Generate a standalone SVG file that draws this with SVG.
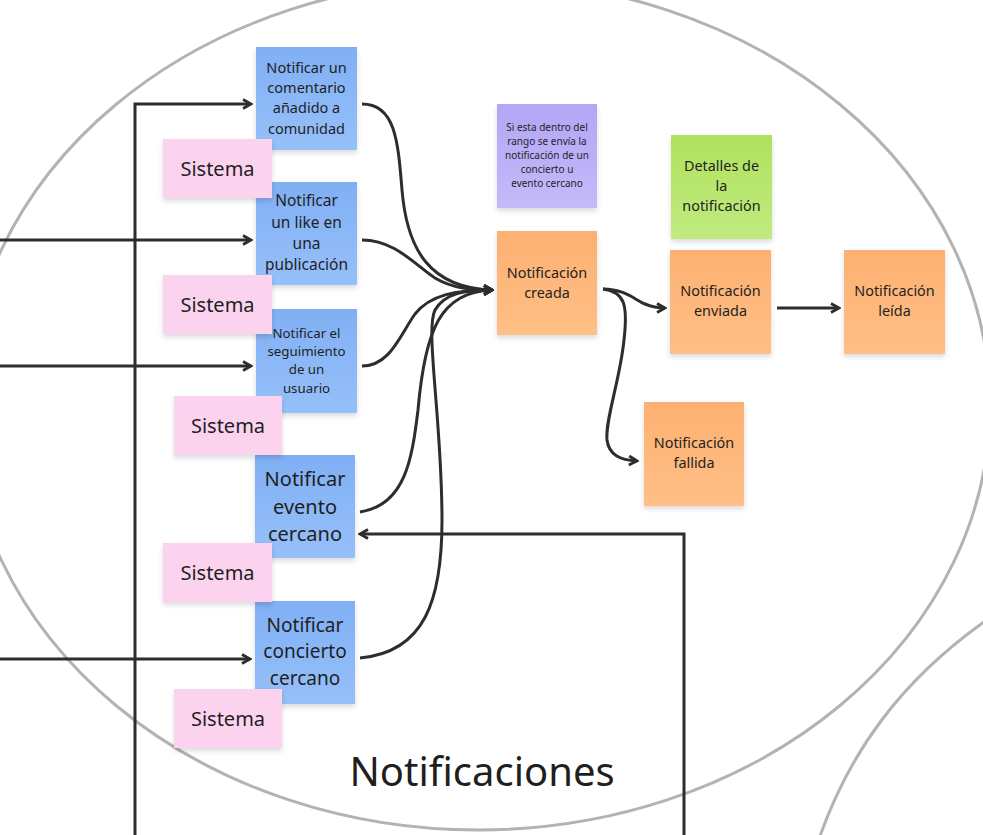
<svg xmlns="http://www.w3.org/2000/svg" width="983" height="835" viewBox="0 0 983 835">
<defs>
<style>
text{font-family:"Noto Sans","Open Sans",sans-serif;fill:#1f1f1f;text-anchor:middle}
.frame{fill:none;stroke:#b3b3b3;stroke-width:3}
.c{fill:none;stroke:#2d2d2d;stroke-width:3;marker-end:url(#ah)}
.blue{fill:url(#gb);filter:url(#sh)}
.pink{fill:#fcd3ef;filter:url(#sh)}
.orange{fill:url(#go);filter:url(#sh)}
.purple{fill:url(#gp);filter:url(#sh)}
.green{fill:url(#gg);filter:url(#sh)}
</style>
<linearGradient id="gb" x1="0" y1="0" x2="0" y2="1"><stop offset="0" stop-color="#80aff4"/><stop offset="1" stop-color="#96c0f9"/></linearGradient>
<linearGradient id="go" x1="0" y1="0" x2="0" y2="1"><stop offset="0" stop-color="#fdb071"/><stop offset="1" stop-color="#ffbf86"/></linearGradient>
<linearGradient id="gp" x1="0" y1="0" x2="0" y2="1"><stop offset="0" stop-color="#b3a6f5"/><stop offset="1" stop-color="#c3bafa"/></linearGradient>
<linearGradient id="gg" x1="0" y1="0" x2="0" y2="1"><stop offset="0" stop-color="#afe25d"/><stop offset="1" stop-color="#c1ea80"/></linearGradient>
<filter id="sh" x="-10%" y="-10%" width="120%" height="125%"><feDropShadow dx="0" dy="3" stdDeviation="2.5" flood-color="#000" flood-opacity="0.14"/></filter>
<marker id="ah" viewBox="0 0 12 12" refX="10" refY="6" markerWidth="12" markerHeight="12" markerUnits="userSpaceOnUse" orient="auto"><path d="M2,1.5 L10,6 L2,10.5" fill="none" stroke="#2d2d2d" stroke-width="2.8"/></marker>
</defs>
<rect width="983" height="835" fill="#ffffff"/>
<g id="frames">
<ellipse class="frame" cx="478" cy="405" rx="512" ry="425"/>
<path class="frame" d="M820,836 C850,752 900,682 984,622"/>
<text x="482" y="786" font-size="40">Notificaciones</text>
</g>
<g id="connectors">
<path class="c" d="M135,835 V104 H251"/>
<path class="c" d="M0,240 H251"/>
<path class="c" d="M0,366 H251"/>
<path class="c" d="M0,659 H250"/>
<path class="c" d="M684,835 V534 H360"/>
<path class="c" d="M362,104 C395,104 398,140 402,190 C407,250 430,288 492,290"/>
<path class="c" d="M362,240 C395,240 415,265 435,278 C452,288 470,290 492,290"/>
<path class="c" d="M362,366 C390,366 400,335 415,314 C430,295 455,290 492,290"/>
<path class="c" d="M360,512 C405,505 412,460 418,410 C425,330 440,292 492,290"/>
<path class="c" d="M360,658 C425,652 442,600 442,520 C442,420 425,330 435,310 C445,293 465,290 492,290"/>
<path class="c" d="M603,289 C625,289 635,300 645,304 C652,307 658,308 665,308"/>
<path class="c" d="M603,289 C625,292 628,305 624,340 C620,380 605,420 607,440 C609,455 620,460 637,461"/>
<path class="c" d="M777,308 H839"/>
</g>
<g id="n-comentario"><rect class="blue" x="256" y="47" width="101" height="103"/>
<text font-size="14.5"><tspan x="306.5" y="72.5">Notificar un</tspan><tspan x="306.5" y="92.8">comentario</tspan><tspan x="306.5" y="113.2">añadido a</tspan><tspan x="306.5" y="133.5">comunidad</tspan></text></g>
<g id="n-like"><rect class="blue" x="256" y="182" width="101" height="103"/>
<text font-size="15.5"><tspan x="306.5" y="206.4">Notificar</tspan><tspan x="306.5" y="227.6">un like en</tspan><tspan x="306.5" y="248.8">una</tspan><tspan x="306.5" y="270">publicación</tspan></text></g>
<g id="n-seguimiento"><rect class="blue" x="256" y="309" width="101" height="104"/>
<text font-size="13.3"><tspan x="306.5" y="337.7">Notificar el</tspan><tspan x="306.5" y="356">seguimiento</tspan><tspan x="306.5" y="374.3">de un</tspan><tspan x="306.5" y="392.6">usuario</tspan></text></g>
<g id="n-evento"><rect class="blue" x="255" y="455" width="100" height="103"/>
<text font-size="20"><tspan x="305" y="486">Notificar</tspan><tspan x="305" y="513.5">evento</tspan><tspan x="305" y="541">cercano</tspan></text></g>
<g id="n-concierto"><rect class="blue" x="255" y="601" width="100" height="103"/>
<text font-size="19"><tspan x="305" y="631.6">Notificar</tspan><tspan x="305" y="658.2">concierto</tspan><tspan x="305" y="684.8">cercano</tspan></text></g>
<g id="s1"><rect class="pink" x="163" y="139" width="109" height="59"/><text x="217.5" y="175.5" font-size="20">Sistema</text></g>
<g id="s2"><rect class="pink" x="163" y="275" width="109" height="59"/><text x="217.5" y="311.5" font-size="20">Sistema</text></g>
<g id="s3"><rect class="pink" x="174" y="396" width="108" height="59"/><text x="228" y="432.5" font-size="20">Sistema</text></g>
<g id="s4"><rect class="pink" x="163" y="543" width="109" height="59"/><text x="217.5" y="579.5" font-size="20">Sistema</text></g>
<g id="s5"><rect class="pink" x="174" y="689" width="108" height="59"/><text x="228" y="725.5" font-size="20">Sistema</text></g>
<g id="n-rango"><rect class="purple" x="497" y="104" width="100" height="104"/>
<text font-size="10"><tspan x="547" y="130.5">Si esta dentro del</tspan><tspan x="547" y="144.5">rango se envía la</tspan><tspan x="547" y="158.5">notificación de un</tspan><tspan x="547" y="172.5">concierto u</tspan><tspan x="547" y="186.5">evento cercano</tspan></text></g>
<g id="n-detalles"><rect class="green" x="671" y="135" width="101" height="104"/>
<text font-size="14.4"><tspan x="721.5" y="171">Detalles de</tspan><tspan x="721.5" y="191">la</tspan><tspan x="721.5" y="211">notificación</tspan></text></g>
<g id="n-creada"><rect class="orange" x="497" y="231" width="100" height="104"/>
<text font-size="14.4"><tspan x="547" y="278">Notificación</tspan><tspan x="547" y="297.5">creada</tspan></text></g>
<g id="n-enviada"><rect class="orange" x="670" y="250" width="101" height="104"/>
<text font-size="14.4"><tspan x="720.5" y="296">Notificación</tspan><tspan x="720.5" y="316">enviada</tspan></text></g>
<g id="n-leida"><rect class="orange" x="844" y="250" width="101" height="104"/>
<text font-size="14.4"><tspan x="894.5" y="296">Notificación</tspan><tspan x="894.5" y="316">leída</tspan></text></g>
<g id="n-fallida"><rect class="orange" x="644" y="402" width="100" height="104"/>
<text font-size="14.4"><tspan x="694" y="448">Notificación</tspan><tspan x="694" y="468">fallida</tspan></text></g>
</svg>
